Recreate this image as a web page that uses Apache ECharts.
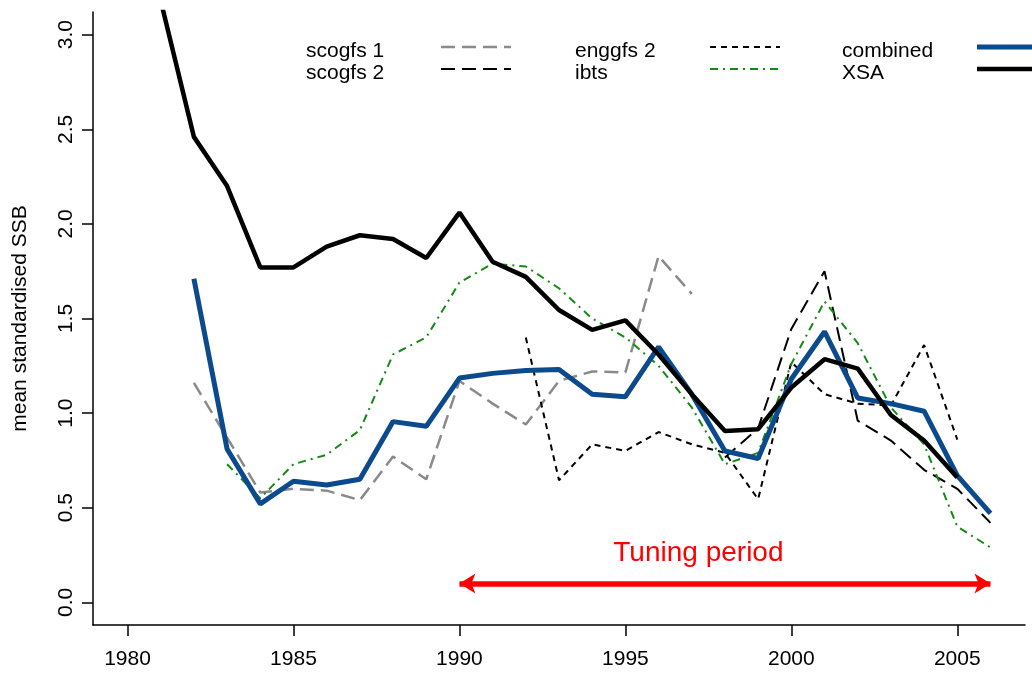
<!DOCTYPE html>
<html>
<head>
<meta charset="utf-8">
<script src="https://cdn.jsdelivr.net/npm/echarts@6/dist/echarts.min.js"></script>
<style>
  html, body { margin: 0; padding: 0; background: #fff; }
  #chart { width: 1032px; height: 675px; }
</style>
</head>
<body>
<div id="chart"></div>
<script>
// 年份
const years = [1981, 1982, 1983, 1984, 1985, 1986, 1987, 1988, 1989, 1990, 1991, 1992, 1993,
  1994, 1995, 1996, 1997, 1998, 1999, 2000, 2001, 2002, 2003, 2004, 2005, 2006];

// 各调查指数（mean standardised SSB）
const scogfs1 = [null, 1.16, 0.87, 0.58, 0.60, 0.59, 0.54, 0.77, 0.65, 1.17, 1.05, 0.94, 1.17,
  1.22, 1.215, 1.83, 1.63, null, null, null, null, null, null, null, null, null];
const scogfs2 = [null, null, null, null, null, null, null, null, null, null, null, null, null,
  null, null, null, null, 0.765, 0.92, 1.445, 1.75, 0.96, 0.855, 0.70, 0.60, 0.42];
const enggfs2 = [null, null, null, null, null, null, null, null, null, null, null, 1.40, 0.645,
  0.835, 0.80, 0.90, 0.835, 0.79, 0.545, 1.27, 1.10, 1.05, 1.04, 1.36, 0.86, null];
const ibts = [null, null, 0.73, 0.55, 0.73, 0.78, 0.91, 1.31, 1.40, 1.69, 1.79, 1.775, 1.66,
  1.50, 1.40, 1.25, 1.03, 0.73, 0.79, 1.26, 1.59, 1.37, 1.03, 0.835, 0.40, 0.29];
const combined = [null, 1.71, 0.81, 0.52, 0.64, 0.62, 0.65, 0.955, 0.93, 1.185, 1.21, 1.225, 1.23,
  1.10, 1.087, 1.35, 1.10, 0.80, 0.76, 1.18, 1.43, 1.08, 1.05, 1.01, 0.67, 0.47];
const xsa = [3.18, 2.46, 2.20, 1.77, 1.77, 1.88, 1.94, 1.92, 1.82, 2.06, 1.80, 1.72, 1.545,
  1.44, 1.49, 1.31, 1.10, 0.905, 0.915, 1.135, 1.285, 1.235, 0.99, 0.855, 0.66, null];

// 刻度
const xTicks = [1980, 1985, 1990, 1995, 2000, 2005];
const yTicks = [0, 0.5, 1, 1.5, 2, 2.5, 3];

// tuning period 箭头
const tuningStart = 1990;
const tuningEnd = 2006;
const arrowLevel = 0.1;
const tuningLabelPos = [1997.2, 0.26];

const FONT = '"Liberation Sans", Arial, sans-serif';

const pairs = (vals) => years.map((y, i) => [y, vals[i]]);

function lineSeries(name, vals, color, width, dash) {
  return {
    name: name,
    type: 'line',
    data: pairs(vals),
    symbol: 'none',
    connectNulls: false,
    lineStyle: { color: color, width: width, type: dash || 'solid' },
    itemStyle: { color: color },
    z: 3
  };
}

// 图例：文字在左，线型在右（线稍微高于文字中心）
function legendCol(names, left, iconW) {
  return {
    data: names,
    orient: 'vertical',
    left: left,
    top: 32.5,
    align: 'right',
    padding: 0,
    itemGap: -7,
    itemWidth: iconW,
    itemHeight: 14,
    selectedMode: false,
    itemStyle: { opacity: 0 }, // 不要中间的圆点
    lineStyle: { width: 'inherit' },
    formatter: '{t|{name}}',
    textStyle: {
      color: '#000',
      fontSize: 21,
      fontFamily: FONT,
      rich: {
        t: { width: 130, align: 'left', fontSize: 21, lineHeight: 15, padding: [8, 0, 0, 0], fontFamily: FONT, color: '#000' }
      }
    }
  };
}

const chart = echarts.init(document.getElementById('chart'));

chart.setOption({
  animation: false,
  backgroundColor: '#fff',
  grid: { left: 93, right: 7, top: 12, bottom: 50, containLabel: false, outerBoundsMode: 'none' },
  legend: [
    legendCol(['scogfs 1', 'scogfs 2'], 306, 70),
    legendCol(['enggfs 2', 'ibts'], 575, 70),
    legendCol(['combined', 'XSA'], 842, 57)
  ],
  xAxis: {
    type: 'value',
    min: 1978.96,
    max: 2007.04,
    splitLine: { show: false },
    axisLine: { show: true, onZero: false, lineStyle: { color: '#000', width: 1.5 } },
    axisTick: { show: true, length: 11, customValues: xTicks, lineStyle: { color: '#000', width: 1.5 } },
    axisLabel: {
      customValues: xTicks,
      color: '#000',
      fontSize: 21,
      fontFamily: FONT,
      margin: 24,
      formatter: (v) => String(v)
    }
  },
  yAxis: {
    type: 'value',
    min: -0.12,
    max: 3.12,
    name: 'mean standardised SSB',
    nameLocation: 'middle',
    nameRotate: 90,
    nameGap: 62,
    nameTextStyle: { color: '#000', fontSize: 21, fontFamily: FONT },
    splitLine: { show: false },
    axisLine: { show: true, onZero: false, lineStyle: { color: '#000', width: 1.5 } },
    axisTick: { show: true, length: 11, customValues: yTicks, lineStyle: { color: '#000', width: 1.5 } },
    axisLabel: {
      customValues: yTicks,
      rotate: 90,
      margin: 16,
      color: '#000',
      fontSize: 21,
      fontFamily: FONT,
      formatter: (v) => v.toFixed(1)
    }
  },
  series: [
    lineSeries('scogfs 1', scogfs1, '#8a8a8a', 2.5, [14, 7]),
    lineSeries('scogfs 2', scogfs2, '#000', 2, [14, 7]),
    lineSeries('enggfs 2', enggfs2, '#000', 2, [6, 5]),
    lineSeries('ibts', ibts, '#138a13', 2, [8, 5, 2, 5]),
    lineSeries('combined', combined, '#0b4a8c', 5),
    lineSeries('XSA', xsa, '#000', 4.5),
    {
      name: 'tuning',
      type: 'line',
      data: [[tuningStart, arrowLevel], [tuningEnd, arrowLevel]],
      symbol: 'none',
      lineStyle: { opacity: 0 },
      markLine: {
        silent: true,
        symbol: ['arrow', 'arrow'],
        symbolSize: [15, 16],
        label: { show: false },
        lineStyle: { color: '#ff0000', width: 5.5, type: 'solid' },
        data: [[{ coord: [tuningStart, arrowLevel] }, { coord: [tuningEnd, arrowLevel] }]]
      },
      markPoint: {
        silent: true,
        symbol: 'rect',
        symbolSize: 1,
        itemStyle: { color: 'transparent' },
        label: {
          show: true,
          position: 'inside',
          formatter: 'Tuning period',
          color: '#ff0000',
          fontSize: 28,
          fontFamily: FONT
        },
        data: [{ coord: tuningLabelPos }]
      }
    }
  ]
});
</script>
</body>
</html>
